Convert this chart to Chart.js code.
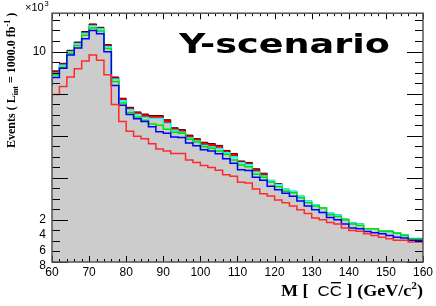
<!DOCTYPE html>
<html><head><meta charset="utf-8">
<script src="https://cdn.jsdelivr.net/npm/chart.js@4"></script>
<style>html,body{margin:0;padding:0;background:#fff;}canvas{display:block}</style>
</head><body>
<canvas id="c" width="436" height="306"></canvas>
<script>
// Bin edges (GeV/c^2), 2 GeV bins
const binEdges = [60,62,64,66,68,70,72,74,76,78,80,82,84,86,88,90,92,94,96,98,100,102,104,106,108,110,112,114,116,118,120,122,124,126,128,130,132,134,136,138,140,142,144,146,148,150,152,154,156,158,160];
// Events (x10^3) per bin
const topSeries = [8.58,9.08,9.44,10.06,10.45,10.95,11.31,11.15,10.33,8.79,7.78,7.35,7.13,7.03,6.96,6.96,6.76,6.38,6.29,6.03,5.86,5.69,5.63,5.54,5.30,5.15,4.80,4.73,4.43,4.22,3.88,3.72,3.46,3.36,3.13,2.90,2.73,2.57,2.32,2.24,2.04,1.86,1.81,1.59,1.59,1.47,1.47,1.38,1.29,1.12];
const cyanSeries = [8.51,8.97,9.35,9.98,10.37,10.86,11.22,11.08,10.23,8.69,7.66,7.24,7.01,6.87,6.82,6.82,6.59,6.26,6.17,5.89,5.75,5.54,5.47,5.40,5.19,5.00,4.72,4.63,4.28,4.09,3.86,3.68,3.44,3.36,3.13,2.90,2.73,2.57,2.32,2.24,2.04,1.86,1.81,1.59,1.59,1.47,1.47,1.38,1.29,1.12];
const greenSeries = [8.41,8.88,9.25,9.91,10.28,10.77,11.12,10.98,10.14,8.58,7.55,7.10,6.89,6.73,6.56,6.50,6.31,6.17,6.12,5.83,5.70,5.47,5.40,5.27,5.12,4.85,4.61,4.53,4.17,4.03,3.80,3.58,3.36,3.29,3.05,2.82,2.66,2.56,2.24,2.16,2.00,1.81,1.73,1.58,1.58,1.45,1.45,1.37,1.26,1.11];
const blueSeries = [8.36,8.77,9.21,9.83,10.17,10.61,11.00,10.84,9.99,8.38,7.45,7.01,6.80,6.68,6.43,6.19,6.12,5.94,5.91,5.65,5.52,5.33,5.27,5.14,4.91,4.69,4.38,4.35,4.03,3.88,3.60,3.43,3.27,3.12,2.90,2.66,2.48,2.35,2.12,2.01,1.81,1.62,1.58,1.45,1.39,1.34,1.26,1.18,1.14,1.03];
const redSeries = [7.60,7.96,8.34,8.79,9.18,9.55,9.83,9.59,8.90,7.48,6.67,6.21,5.98,5.86,5.62,5.37,5.27,5.15,5.15,4.85,4.73,4.58,4.49,4.36,4.15,4.07,3.79,3.75,3.47,3.24,3.13,2.94,2.82,2.66,2.48,2.30,2.09,2.01,1.88,1.81,1.62,1.50,1.46,1.34,1.26,1.18,1.11,1.03,1.03,0.95];
const xTickLabels = ['60','70','80','90','100','110','120','130','140','150','160'];
const yTickLabels = ['10','2','4','6','8'];
const scenarioLabel = 'Y-scenario';

function hist(vals){
  const pts = vals.map((v,i)=>({x:binEdges[i], y:v}));
  pts.push({x:binEdges[vals.length], y:vals[vals.length-1]});
  return pts;
}
function ds(vals, color, order, fillColor, bw){
  return {data:hist(vals), borderColor:color, borderWidth:bw||1.5, stepped:'after', pointRadius:0,
    fill: fillColor ? 'origin' : false, backgroundColor: fillColor || 'transparent', order:order};
}

const rootPlugin = {
  id:'rootFrame',
  afterDatasetsDraw(chart){
    const {ctx, chartArea:a, scales:{x,y}} = chart;
    ctx.save();
    ctx.strokeStyle='#000'; ctx.lineWidth=1;
    ctx.beginPath();
    for (let k=0; k<=23; k++){
      const v = k*0.5;
      const py = Math.round(y.getPixelForValue(v))+0.5;
      const L = (k%4===0)?16:8;
      ctx.moveTo(a.left,py); ctx.lineTo(a.left+L,py);
      ctx.moveTo(a.right,py); ctx.lineTo(a.right-L,py);
    }
    for (let v=60; v<=160; v+=2){
      const px = Math.round(x.getPixelForValue(v))+0.5;
      const L = (v%10===0)?6:3;
      ctx.moveTo(px,a.bottom); ctx.lineTo(px,a.bottom-L);
      ctx.moveTo(px,a.top); ctx.lineTo(px,a.top+L);
    }
    ctx.stroke();
    ctx.strokeStyle='#555'; ctx.lineWidth=1.5;
    ctx.strokeRect(a.left,a.top,a.right-a.left,a.bottom-a.top);
    ctx.restore();
  },
  afterDraw(chart){
    const {ctx, chartArea:a, scales:{y}} = chart;
    ctx.save();
    ctx.fillStyle='#000';
    ctx.font='12px "Liberation Sans", Arial, sans-serif';
    ctx.textAlign='right'; ctx.textBaseline='middle';
    const p2 = y.getPixelForValue(2);
    for (let k=2;k<yTickLabels.length;k++){
      ctx.fillText(yTickLabels[k], 46, p2 + 15.2*(k-1));
    }
    ctx.textAlign='left'; ctx.textBaseline='alphabetic';
    ctx.font='11px "Liberation Sans", Arial, sans-serif';
    ctx.fillText('\u00d710', 25, 11);
    const w10 = ctx.measureText('\u00d710').width;
    ctx.font='8px "Liberation Sans", Arial, sans-serif';
    ctx.fillText('3', 25+w10+0.5, 6);
    // Y-scenario
    ctx.font='bold 27px "DejaVu Sans", sans-serif';
    const ws = ctx.measureText(scenarioLabel).width;
    ctx.save(); ctx.translate(179,53); ctx.scale(211/ws,1);
    ctx.fillText(scenarioLabel,0,0); ctx.restore();
    // x title
    const serifB = 'bold 16px "Liberation Serif", "Times New Roman", serif';
    const sans = '15px "Liberation Sans", Arial, sans-serif';
    const segs = [
      {t:'M [  ', f:serifB, dy:0},
      {t:'C', f:sans, dy:0},
      {t:'C', f:sans, dy:0, bar:true},
      {t:' ] (GeV/c', f:serifB, dy:0},
      {t:'2', f:'bold 10px "Liberation Serif", serif', dy:-7},
      {t:')', f:serifB, dy:0}
    ];
    let tot=0; segs.forEach(s=>{ctx.font=s.f; s.w=ctx.measureText(s.t).width; tot+=s.w;});
    const target = a.right - 281;
    ctx.save(); ctx.translate(281, 296); ctx.scale(target/tot, 1);
    let sx = 0;
    segs.forEach(s=>{
      ctx.font=s.f; ctx.fillText(s.t, sx, s.dy);
      if (s.bar){ ctx.fillRect(sx+1, -14, s.w-2, 1.4); }
      sx += s.w;
    });
    ctx.restore();
    // y title rotated
    ctx.translate(15,148); ctx.rotate(-Math.PI/2);
    const ysegs = [
      {t:'Events ( L', f:'bold 12px "Liberation Serif", serif', dy:0},
      {t:'int', f:'bold 8px "Liberation Serif", serif', dy:3},
      {t:' = 1000.0 fb', f:'bold 12px "Liberation Serif", serif', dy:0},
      {t:'-1', f:'bold 8px "Liberation Serif", serif', dy:-5},
      {t:' )', f:'bold 12px "Liberation Serif", serif', dy:0}
    ];
    let tx=0;
    ysegs.forEach(s=>{ctx.font=s.f; ctx.fillText(s.t, tx, s.dy); tx+=ctx.measureText(s.t).width;});
    ctx.restore();
  }
};

new Chart(document.getElementById('c'), {
  type:'line',
  data:{datasets:[
    ds(topSeries,'#500000',6,'#ff0000',1),
    ds(cyanSeries,'#00ffff',5,'#cccccc',1.3),
    ds(greenSeries,'#00e000',4,null,1.5),
    ds(blueSeries,'#0000ff',3,null,1.5),
    ds(redSeries,'#ff2a2a',2,null,1.5)
  ]},
  options:{
    responsive:false, animation:false, devicePixelRatio:1,
    layout:{padding:{top:9,right:10,left:0,bottom:0}},
    plugins:{legend:{display:false}, tooltip:{enabled:false}},
    scales:{
      x:{type:'linear', min:60, max:160,
        grid:{display:false, drawTicks:false}, border:{display:false},
        ticks:{stepSize:10, autoSkip:false, maxRotation:0, padding:3, color:'#000',
          font:{family:'"Liberation Sans", Arial, sans-serif', size:12},
          callback:(v)=>xTickLabels[Math.round((v-60)/10)] ?? ''},
        afterFit:(s)=>{s.height=44;}
      },
      y:{type:'linear', min:0, max:11.82,
        grid:{display:false, drawTicks:false}, border:{display:false},
        ticks:{stepSize:2, autoSkip:false, padding:6, color:'#000',
          font:{family:'"Liberation Sans", Arial, sans-serif', size:12},
          callback:(v)=> v===10 ? yTickLabels[0] : (v===2 ? yTickLabels[1] : '')},
        afterFit:(s)=>{s.width=52;}
      }
    }
  },
  plugins:[rootPlugin]
});
</script>
</body></html>
